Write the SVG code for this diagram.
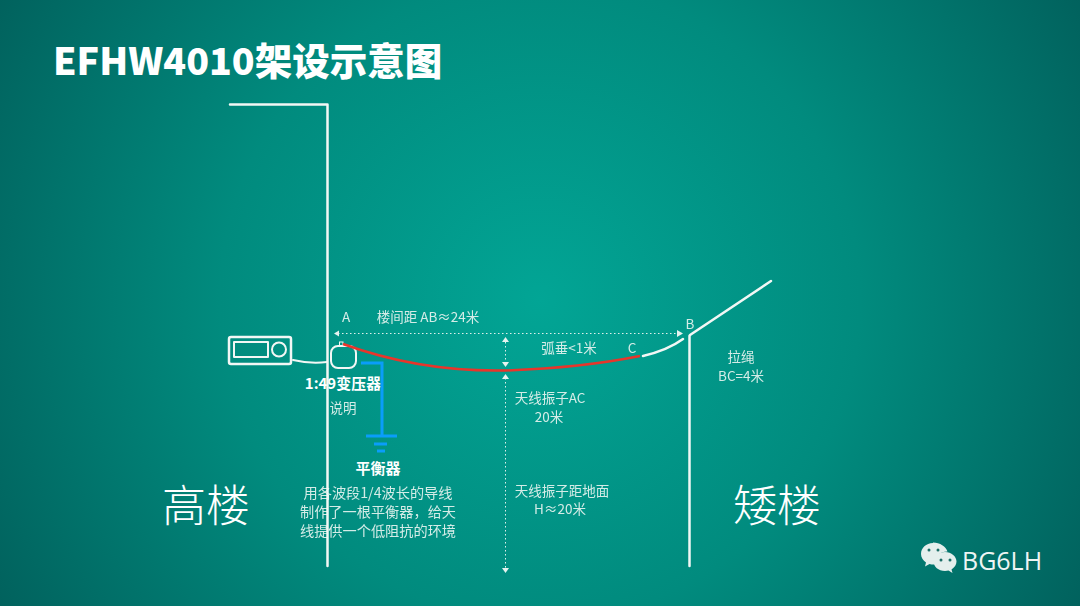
<svg xmlns="http://www.w3.org/2000/svg" width="1080" height="606" viewBox="0 0 1080 606">
<style>
.chalk{fill:none;stroke:#f2f7f5;stroke-width:2.500;stroke-linecap:round;stroke-linejoin:round}
.thin{stroke-width:2}
.dot{fill:none;stroke:#dff0ec;stroke-width:1;stroke-dasharray:1.500 2.500}
.head{fill:#e6f3f0}
.hw{font-family:"Noto Sans CJK SC","Noto Sans",sans-serif;font-weight:400;fill:#d4ece7;font-size:13.500px;text-anchor:middle;filter:url(#soft)}
.bold{font-family:"Noto Sans CJK SC","Noto Sans",sans-serif;font-weight:700;fill:#fff;font-size:15px;text-anchor:middle}
.big{font-family:"Noto Sans CJK SC",sans-serif;font-weight:300;font-size:44px;fill:#fff;text-anchor:middle}
.blue{fill:none;stroke:#0a9dfa;stroke-width:3}
.wx{fill:#e4efed}
.eye{fill:#1c6f68}
</style>
<defs>
<radialGradient id="bg" gradientUnits="userSpaceOnUse" cx="540" cy="300" r="640">
<stop offset="0" stop-color="#02a595"/>
<stop offset="0.5" stop-color="#018b7e"/>
<stop offset="1" stop-color="#015f5b"/>
</radialGradient>
<filter id="soft"><feGaussianBlur stdDeviation="0.250"/></filter>
</defs>
<rect width="1080" height="606" fill="url(#bg)"/>
<text x="53" y="75" font-family="'Noto Sans CJK SC','Noto Sans',sans-serif" font-weight="900" font-size="37.500" fill="#fff">EFHW4010架设示意图</text>

<g id="radio">
<rect class="chalk" x="229" y="337" width="62" height="27" rx="2"/>
<rect class="chalk thin" x="234" y="342" width="34" height="15"/>
<circle class="chalk thin" cx="279" cy="349.500" r="7"/>
</g>
<g id="transformer">
<rect class="chalk thin" x="331" y="346" width="25" height="22" rx="7"/>
<rect x="339.500" y="342" width="3.500" height="4" fill="none" stroke="#f2f7f5" stroke-width="1"/>
<text class="bold" x="343" y="389">1:49变压器</text>
<text class="hw" x="343" y="413">说明</text>
</g>
<g id="balun">
<text class="bold" x="378" y="474">平衡器</text>
<text class="hw" x="378" y="498" style="font-size:14.200px">用各波段1/4波长的导线</text>
<text class="hw" x="378" y="517" style="font-size:14.200px">制作了一根平衡器，给天</text>
<text class="hw" x="378" y="536" style="font-size:14.200px">线提供一个低阻抗的环境</text>
</g>
<g id="labels">
<text class="hw" x="346" y="322">A</text>
<text class="hw" x="428" y="322">楼间距 AB≈24米</text>
<text class="hw" x="569" y="353">弧垂&lt;1米</text>
<text class="hw" x="632" y="353">C</text>
<text class="hw" x="690" y="329">B</text>
<text class="hw" x="741" y="362">拉绳</text>
<text class="hw" x="741" y="381">BC=4米</text>
<text class="hw" x="550" y="403">天线振子AC</text>
<text class="hw" x="549" y="422">20米</text>
<text class="hw" x="562" y="496">天线振子距地面</text>
<text class="hw" x="560" y="514">H≈20米</text>
</g>
<g id="high-building"><text class="big" x="206" y="522">高楼</text></g>
<g id="low-building"><text class="big" x="777" y="522">矮楼</text></g>
<g id="connectors">
<path class="chalk" d="M230 104.500H327.500V566"/>
<path class="chalk" d="M689.500 336V566"/>
<path class="chalk" d="M690 335L771 281"/>
<path class="chalk" d="M643 356Q668 350 683 339"/>
<path d="M343 344Q420 372 505 370.500Q580 368 640 356" fill="none" stroke="#e8352b" stroke-width="2.500"/>
<path class="chalk thin" d="M293 360Q310 364 327 362"/>
<path class="blue" d="M361 363H382V436"/>
<path class="blue" d="M366 436H397M374 444H387M377 451H385"/>
<path class="dot" d="M338 333.500H680"/>
<path class="head" d="M334 333.500L339 330.500V336.500Z"/>
<path class="head" d="M683 333.500L677 330V337Z"/>
<path class="dot" d="M505.500 342V362"/>
<path class="head" d="M505.500 337L502 342H509Z"/>
<path class="head" d="M505.500 367L502 362H509Z"/>
<path class="dot" d="M505.500 378V568"/>
<path class="head" d="M505.500 374L502 379H509Z"/>
<path class="head" d="M505.500 573L502 568H509Z"/>
</g>
<g id="watermark">
<path class="wx" d="M933 543c-7 0-12 5-12 11 0 3.500 2 6.500 5 8.500l-1 4 4.500-2.500c1.500.4 2.500.5 4 .5h1c-1-7 5-13 13-13-1.500-5-7.500-9-14.500-9Z"/>
<path class="wx" d="M945 552c-6.500 0-11.500 4.500-11.500 9.500s5 9.500 11.500 9.500c1.500 0 2.500-.2 3.500-.5l4 2.500-1-3.500c3-2 5-5 5-8 0-5-5-9.500-11.500-9.500Z"/>
<circle class="eye" cx="929" cy="550" r="1.500"/><circle class="eye" cx="938" cy="550" r="1.500"/>
<circle class="eye" cx="941" cy="560" r="1.500"/><circle class="eye" cx="950" cy="560" r="1.500"/>
<text x="962" y="570" font-family="'Open Sans','Noto Sans',sans-serif" font-size="25" fill="#eef5f4">BG6LH</text>
</g>
</svg>
